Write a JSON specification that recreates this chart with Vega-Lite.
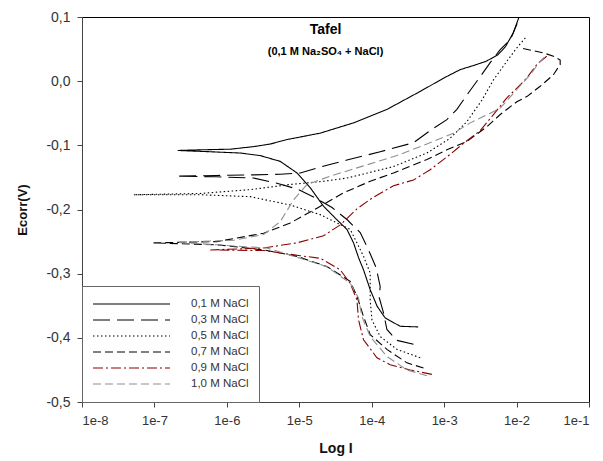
{
  "$schema": "https://vega.github.io/schema/vega-lite/v6.json",
  "width": 507,
  "height": 385,
  "autosize": {"type": "none"},
  "padding": {"left": 82, "top": 17, "right": 14, "bottom": 59},
  "background": "white",
  "config": {
    "font": "Liberation Sans",
    "view": {"stroke": "black", "strokeWidth": 1},
    "legend": {
      "orient": "bottom-left",
      "offset": 0,
      "padding": 10,
      "strokeColor": "#666666",
      "fillColor": "white",
      "symbolType": "stroke",
      "symbolSize": 5929,
      "clipHeight": 16,
      "rowPadding": 0,
      "labelOffset": 20,
      "labelFont": "Liberation Sans",
      "labelFontSize": 11.5,
      "labelColor": "#333333",
      "labelLimit": 200,
      "symbolStrokeWidth": 1.2
    }
  },
  "title": {
    "text": "Tafel",
    "subtitle": "(0,1 M Na₂SO₄ + NaCl)",
    "anchor": "middle",
    "offset": -47,
    "dx": -10,
    "font": "Liberation Sans",
    "fontSize": 14,
    "fontWeight": "bold",
    "color": "black",
    "subtitleFont": "Liberation Sans",
    "subtitleFontSize": 11,
    "subtitleFontWeight": "bold",
    "subtitleColor": "black",
    "subtitlePadding": 9
  },
  "data": {"values": [
    {"s":"0,1 M NaCl","i":0,"x":-3.358,"y":-0.383},
    {"s":"0,1 M NaCl","i":1,"x":-3.607,"y":-0.382},
    {"s":"0,1 M NaCl","i":2,"x":-3.814,"y":-0.369},
    {"s":"0,1 M NaCl","i":3,"x":-3.924,"y":-0.351},
    {"s":"0,1 M NaCl","i":4,"x":-4.021,"y":-0.325},
    {"s":"0,1 M NaCl","i":5,"x":-4.113,"y":-0.294},
    {"s":"0,1 M NaCl","i":6,"x":-4.182,"y":-0.275},
    {"s":"0,1 M NaCl","i":7,"x":-4.251,"y":-0.252},
    {"s":"0,1 M NaCl","i":8,"x":-4.342,"y":-0.231},
    {"s":"0,1 M NaCl","i":9,"x":-4.480,"y":-0.216},
    {"s":"0,1 M NaCl","i":10,"x":-4.665,"y":-0.195},
    {"s":"0,1 M NaCl","i":11,"x":-4.849,"y":-0.166},
    {"s":"0,1 M NaCl","i":12,"x":-5.032,"y":-0.143},
    {"s":"0,1 M NaCl","i":13,"x":-5.263,"y":-0.125},
    {"s":"0,1 M NaCl","i":14,"x":-5.539,"y":-0.116},
    {"s":"0,1 M NaCl","i":15,"x":-5.815,"y":-0.112},
    {"s":"0,1 M NaCl","i":16,"x":-6.229,"y":-0.110},
    {"s":"0,1 M NaCl","i":17,"x":-6.678,"y":-0.108},
    {"s":"0,1 M NaCl","i":18,"x":-6.367,"y":-0.107},
    {"s":"0,1 M NaCl","i":19,"x":-5.953,"y":-0.106},
    {"s":"0,1 M NaCl","i":20,"x":-5.631,"y":-0.102},
    {"s":"0,1 M NaCl","i":21,"x":-5.401,"y":-0.098},
    {"s":"0,1 M NaCl","i":22,"x":-5.170,"y":-0.091},
    {"s":"0,1 M NaCl","i":23,"x":-4.711,"y":-0.081},
    {"s":"0,1 M NaCl","i":24,"x":-4.251,"y":-0.065},
    {"s":"0,1 M NaCl","i":25,"x":-3.790,"y":-0.044},
    {"s":"0,1 M NaCl","i":26,"x":-3.331,"y":-0.016},
    {"s":"0,1 M NaCl","i":27,"x":-3.003,"y":0.005},
    {"s":"0,1 M NaCl","i":28,"x":-2.778,"y":0.018},
    {"s":"0,1 M NaCl","i":29,"x":-2.578,"y":0.025},
    {"s":"0,1 M NaCl","i":30,"x":-2.420,"y":0.031},
    {"s":"0,1 M NaCl","i":31,"x":-2.258,"y":0.041},
    {"s":"0,1 M NaCl","i":32,"x":-2.152,"y":0.054},
    {"s":"0,1 M NaCl","i":33,"x":-2.047,"y":0.075},
    {"s":"0,1 M NaCl","i":34,"x":-1.966,"y":0.100},

    {"s":"0,3 M NaCl","i":0,"x":-3.423,"y":-0.410},
    {"s":"0,3 M NaCl","i":1,"x":-3.652,"y":-0.404},
    {"s":"0,3 M NaCl","i":2,"x":-3.790,"y":-0.387},
    {"s":"0,3 M NaCl","i":3,"x":-3.837,"y":-0.361},
    {"s":"0,3 M NaCl","i":4,"x":-3.897,"y":-0.337},
    {"s":"0,3 M NaCl","i":5,"x":-3.883,"y":-0.320},
    {"s":"0,3 M NaCl","i":6,"x":-3.938,"y":-0.291},
    {"s":"0,3 M NaCl","i":7,"x":-4.044,"y":-0.263},
    {"s":"0,3 M NaCl","i":8,"x":-4.159,"y":-0.236},
    {"s":"0,3 M NaCl","i":9,"x":-4.338,"y":-0.216},
    {"s":"0,3 M NaCl","i":10,"x":-4.548,"y":-0.197},
    {"s":"0,3 M NaCl","i":11,"x":-4.761,"y":-0.183},
    {"s":"0,3 M NaCl","i":12,"x":-5.032,"y":-0.168},
    {"s":"0,3 M NaCl","i":13,"x":-5.309,"y":-0.159},
    {"s":"0,3 M NaCl","i":14,"x":-5.631,"y":-0.151},
    {"s":"0,3 M NaCl","i":15,"x":-6.146,"y":-0.149},
    {"s":"0,3 M NaCl","i":16,"x":-6.698,"y":-0.148},
    {"s":"0,3 M NaCl","i":17,"x":-6.146,"y":-0.147},
    {"s":"0,3 M NaCl","i":18,"x":-5.631,"y":-0.146},
    {"s":"0,3 M NaCl","i":19,"x":-5.263,"y":-0.145},
    {"s":"0,3 M NaCl","i":20,"x":-4.987,"y":-0.143},
    {"s":"0,3 M NaCl","i":21,"x":-4.618,"y":-0.131},
    {"s":"0,3 M NaCl","i":22,"x":-4.342,"y":-0.123},
    {"s":"0,3 M NaCl","i":23,"x":-3.883,"y":-0.110},
    {"s":"0,3 M NaCl","i":24,"x":-3.423,"y":-0.096},
    {"s":"0,3 M NaCl","i":25,"x":-3.193,"y":-0.077},
    {"s":"0,3 M NaCl","i":26,"x":-2.962,"y":-0.060},
    {"s":"0,3 M NaCl","i":27,"x":-2.824,"y":-0.044},
    {"s":"0,3 M NaCl","i":28,"x":-2.682,"y":-0.021},
    {"s":"0,3 M NaCl","i":29,"x":-2.502,"y":0.007},
    {"s":"0,3 M NaCl","i":30,"x":-2.364,"y":0.029},
    {"s":"0,3 M NaCl","i":31,"x":-2.226,"y":0.049},
    {"s":"0,3 M NaCl","i":32,"x":-2.084,"y":0.065},
    {"s":"0,3 M NaCl","i":33,"x":-1.992,"y":0.090},

    {"s":"0,5 M NaCl","i":0,"x":-3.331,"y":-0.431},
    {"s":"0,5 M NaCl","i":1,"x":-3.652,"y":-0.418},
    {"s":"0,5 M NaCl","i":2,"x":-3.883,"y":-0.398},
    {"s":"0,5 M NaCl","i":3,"x":-3.997,"y":-0.372},
    {"s":"0,5 M NaCl","i":4,"x":-4.021,"y":-0.341},
    {"s":"0,5 M NaCl","i":5,"x":-4.021,"y":-0.299},
    {"s":"0,5 M NaCl","i":6,"x":-4.113,"y":-0.273},
    {"s":"0,5 M NaCl","i":7,"x":-4.204,"y":-0.252},
    {"s":"0,5 M NaCl","i":8,"x":-4.297,"y":-0.231},
    {"s":"0,5 M NaCl","i":9,"x":-4.480,"y":-0.221},
    {"s":"0,5 M NaCl","i":10,"x":-4.711,"y":-0.208},
    {"s":"0,5 M NaCl","i":11,"x":-5.125,"y":-0.193},
    {"s":"0,5 M NaCl","i":12,"x":-5.677,"y":-0.180},
    {"s":"0,5 M NaCl","i":13,"x":-6.367,"y":-0.177},
    {"s":"0,5 M NaCl","i":14,"x":-7.288,"y":-0.177},
    {"s":"0,5 M NaCl","i":15,"x":-6.367,"y":-0.175},
    {"s":"0,5 M NaCl","i":16,"x":-5.677,"y":-0.169},
    {"s":"0,5 M NaCl","i":17,"x":-5.125,"y":-0.161},
    {"s":"0,5 M NaCl","i":18,"x":-4.665,"y":-0.156},
    {"s":"0,5 M NaCl","i":19,"x":-4.342,"y":-0.151},
    {"s":"0,5 M NaCl","i":20,"x":-4.159,"y":-0.146},
    {"s":"0,5 M NaCl","i":21,"x":-3.699,"y":-0.133},
    {"s":"0,5 M NaCl","i":22,"x":-3.238,"y":-0.112},
    {"s":"0,5 M NaCl","i":23,"x":-2.917,"y":-0.089},
    {"s":"0,5 M NaCl","i":24,"x":-2.686,"y":-0.063},
    {"s":"0,5 M NaCl","i":25,"x":-2.475,"y":-0.029},
    {"s":"0,5 M NaCl","i":26,"x":-2.319,"y":0.002},
    {"s":"0,5 M NaCl","i":27,"x":-2.134,"y":0.031},
    {"s":"0,5 M NaCl","i":28,"x":-1.996,"y":0.052},
    {"s":"0,5 M NaCl","i":29,"x":-1.867,"y":0.069},

    {"s":"0,7 M NaCl","i":0,"x":-3.285,"y":-0.447},
    {"s":"0,7 M NaCl","i":1,"x":-3.514,"y":-0.439},
    {"s":"0,7 M NaCl","i":2,"x":-3.790,"y":-0.418},
    {"s":"0,7 M NaCl","i":3,"x":-4.021,"y":-0.395},
    {"s":"0,7 M NaCl","i":4,"x":-4.113,"y":-0.367},
    {"s":"0,7 M NaCl","i":5,"x":-4.204,"y":-0.335},
    {"s":"0,7 M NaCl","i":6,"x":-4.297,"y":-0.312},
    {"s":"0,7 M NaCl","i":7,"x":-4.618,"y":-0.289},
    {"s":"0,7 M NaCl","i":8,"x":-5.032,"y":-0.273},
    {"s":"0,7 M NaCl","i":9,"x":-5.493,"y":-0.263},
    {"s":"0,7 M NaCl","i":10,"x":-6.137,"y":-0.255},
    {"s":"0,7 M NaCl","i":11,"x":-7.012,"y":-0.252},
    {"s":"0,7 M NaCl","i":12,"x":-6.137,"y":-0.250},
    {"s":"0,7 M NaCl","i":13,"x":-5.493,"y":-0.237},
    {"s":"0,7 M NaCl","i":14,"x":-5.125,"y":-0.221},
    {"s":"0,7 M NaCl","i":15,"x":-4.756,"y":-0.198},
    {"s":"0,7 M NaCl","i":16,"x":-4.389,"y":-0.174},
    {"s":"0,7 M NaCl","i":17,"x":-4.021,"y":-0.156},
    {"s":"0,7 M NaCl","i":18,"x":-3.699,"y":-0.143},
    {"s":"0,7 M NaCl","i":19,"x":-3.238,"y":-0.122},
    {"s":"0,7 M NaCl","i":20,"x":-2.962,"y":-0.107},
    {"s":"0,7 M NaCl","i":21,"x":-2.686,"y":-0.094},
    {"s":"0,7 M NaCl","i":22,"x":-2.410,"y":-0.071},
    {"s":"0,7 M NaCl","i":23,"x":-2.226,"y":-0.052},
    {"s":"0,7 M NaCl","i":24,"x":-1.996,"y":-0.032},
    {"s":"0,7 M NaCl","i":25,"x":-1.858,"y":-0.024},
    {"s":"0,7 M NaCl","i":26,"x":-1.674,"y":-0.008},
    {"s":"0,7 M NaCl","i":27,"x":-1.491,"y":0.010},
    {"s":"0,7 M NaCl","i":28,"x":-1.398,"y":0.026},
    {"s":"0,7 M NaCl","i":29,"x":-1.398,"y":0.033},
    {"s":"0,7 M NaCl","i":30,"x":-1.491,"y":0.039},
    {"s":"0,7 M NaCl","i":31,"x":-1.629,"y":0.044},
    {"s":"0,7 M NaCl","i":32,"x":-1.950,"y":0.052},

    {"s":"0,9 M NaCl","i":0,"x":-3.169,"y":-0.457},
    {"s":"0,9 M NaCl","i":1,"x":-3.469,"y":-0.450},
    {"s":"0,9 M NaCl","i":2,"x":-3.745,"y":-0.442},
    {"s":"0,9 M NaCl","i":3,"x":-3.928,"y":-0.431},
    {"s":"0,9 M NaCl","i":4,"x":-4.113,"y":-0.403},
    {"s":"0,9 M NaCl","i":5,"x":-4.182,"y":-0.372},
    {"s":"0,9 M NaCl","i":6,"x":-4.204,"y":-0.341},
    {"s":"0,9 M NaCl","i":7,"x":-4.297,"y":-0.315},
    {"s":"0,9 M NaCl","i":8,"x":-4.435,"y":-0.294},
    {"s":"0,9 M NaCl","i":9,"x":-4.711,"y":-0.276},
    {"s":"0,9 M NaCl","i":10,"x":-4.987,"y":-0.272},
    {"s":"0,9 M NaCl","i":11,"x":-5.493,"y":-0.264},
    {"s":"0,9 M NaCl","i":12,"x":-6.229,"y":-0.263},
    {"s":"0,9 M NaCl","i":13,"x":-5.493,"y":-0.260},
    {"s":"0,9 M NaCl","i":14,"x":-5.032,"y":-0.252},
    {"s":"0,9 M NaCl","i":15,"x":-4.665,"y":-0.241},
    {"s":"0,9 M NaCl","i":16,"x":-4.435,"y":-0.224},
    {"s":"0,9 M NaCl","i":17,"x":-4.204,"y":-0.199},
    {"s":"0,9 M NaCl","i":18,"x":-3.993,"y":-0.182},
    {"s":"0,9 M NaCl","i":19,"x":-3.699,"y":-0.163},
    {"s":"0,9 M NaCl","i":20,"x":-3.423,"y":-0.154},
    {"s":"0,9 M NaCl","i":21,"x":-3.193,"y":-0.138},
    {"s":"0,9 M NaCl","i":22,"x":-2.962,"y":-0.118},
    {"s":"0,9 M NaCl","i":23,"x":-2.733,"y":-0.097},
    {"s":"0,9 M NaCl","i":24,"x":-2.502,"y":-0.077},
    {"s":"0,9 M NaCl","i":25,"x":-2.319,"y":-0.052},
    {"s":"0,9 M NaCl","i":26,"x":-2.134,"y":-0.026},
    {"s":"0,9 M NaCl","i":27,"x":-1.996,"y":-0.011},
    {"s":"0,9 M NaCl","i":28,"x":-1.858,"y":0.005},
    {"s":"0,9 M NaCl","i":29,"x":-1.720,"y":0.026},
    {"s":"0,9 M NaCl","i":30,"x":-1.560,"y":0.041},

    {"s":"1,0 M NaCl","i":0,"x":-3.238,"y":-0.459},
    {"s":"1,0 M NaCl","i":1,"x":-3.514,"y":-0.450},
    {"s":"1,0 M NaCl","i":2,"x":-3.790,"y":-0.429},
    {"s":"1,0 M NaCl","i":3,"x":-4.021,"y":-0.398},
    {"s":"1,0 M NaCl","i":4,"x":-4.135,"y":-0.367},
    {"s":"1,0 M NaCl","i":5,"x":-4.182,"y":-0.338},
    {"s":"1,0 M NaCl","i":6,"x":-4.297,"y":-0.315},
    {"s":"1,0 M NaCl","i":7,"x":-4.618,"y":-0.289},
    {"s":"1,0 M NaCl","i":8,"x":-4.987,"y":-0.276},
    {"s":"1,0 M NaCl","i":9,"x":-5.447,"y":-0.260},
    {"s":"1,0 M NaCl","i":10,"x":-6.137,"y":-0.255},
    {"s":"1,0 M NaCl","i":11,"x":-6.689,"y":-0.251},
    {"s":"1,0 M NaCl","i":12,"x":-5.908,"y":-0.248},
    {"s":"1,0 M NaCl","i":13,"x":-5.493,"y":-0.239},
    {"s":"1,0 M NaCl","i":14,"x":-5.263,"y":-0.219},
    {"s":"1,0 M NaCl","i":15,"x":-5.079,"y":-0.185},
    {"s":"1,0 M NaCl","i":16,"x":-4.894,"y":-0.161},
    {"s":"1,0 M NaCl","i":17,"x":-4.573,"y":-0.148},
    {"s":"1,0 M NaCl","i":18,"x":-4.113,"y":-0.132},
    {"s":"1,0 M NaCl","i":19,"x":-3.652,"y":-0.116},
    {"s":"1,0 M NaCl","i":20,"x":-3.238,"y":-0.098},
    {"s":"1,0 M NaCl","i":21,"x":-2.871,"y":-0.081},
    {"s":"1,0 M NaCl","i":22,"x":-2.640,"y":-0.065},
    {"s":"1,0 M NaCl","i":23,"x":-2.364,"y":-0.050},
    {"s":"1,0 M NaCl","i":24,"x":-2.226,"y":-0.042},
    {"s":"1,0 M NaCl","i":25,"x":-1.996,"y":-0.013},
    {"s":"1,0 M NaCl","i":26,"x":-1.812,"y":0.010},
    {"s":"1,0 M NaCl","i":27,"x":-1.674,"y":0.031},
    {"s":"1,0 M NaCl","i":28,"x":-1.582,"y":0.041}
  ]},
  "mark": {"type": "line", "clip": true},
  "encoding": {
    "x": {
      "field": "x", "type": "quantitative",
      "scale": {"domain": [-8, -1], "nice": false, "zero": false},
      "axis": {
        "title": "Log I",
        "values": [-8, -7, -6, -5, -4, -3, -2, -1],
        "labelExpr": "'1e' + datum.value",
        "grid": false,
        "labelFont": "Liberation Sans", "labelFontSize": 13, "labelColor": "#333333",
        "labelPadding": 7, "tickSize": 5, "tickColor": "#444444", "domainColor": "#444444",
        "titleFont": "Liberation Sans", "titleFontSize": 14, "titleFontWeight": "bold", "titleColor": "#111111",
        "titlePadding": 14
      }
    },
    "y": {
      "field": "y", "type": "quantitative",
      "scale": {"domain": [-0.5, 0.1], "nice": false, "zero": false},
      "axis": {
        "title": "Ecorr(V)",
        "values": [-0.5, -0.4, -0.3, -0.2, -0.1, 0, 0.1],
        "labelExpr": "replace(replace(format(datum.value, '.1f'), '.', ','), '−', '-')",
        "grid": false,
        "labelFont": "Liberation Sans", "labelFontSize": 14, "labelColor": "#333333",
        "labelPadding": 7, "tickSize": 5, "tickColor": "#444444", "domainColor": "#444444",
        "titleFont": "Liberation Sans", "titleFontSize": 13, "titleFontWeight": "bold", "titleColor": "#111111",
        "titlePadding": 16
      }
    },
    "order": {"field": "i", "type": "quantitative"},
    "color": {
      "field": "s", "type": "nominal",
      "scale": {
        "domain": ["0,1 M NaCl", "0,3 M NaCl", "0,5 M NaCl", "0,7 M NaCl", "0,9 M NaCl", "1,0 M NaCl"],
        "range": ["#000000", "#000000", "#000000", "#000000", "#8b0000", "#8f8f8f"]
      },
      "legend": {"title": null}
    },
    "strokeDash": {
      "field": "s", "type": "nominal",
      "scale": {
        "domain": ["0,1 M NaCl", "0,3 M NaCl", "0,5 M NaCl", "0,7 M NaCl", "0,9 M NaCl", "1,0 M NaCl"],
        "range": [[1, 0], [17, 7], [1.5, 2.5], [8, 4], [10, 3, 2, 3], [8, 4]]
      },
      "legend": {"title": null}
    },
    "strokeWidth": {
      "field": "s", "type": "nominal",
      "scale": {
        "domain": ["0,1 M NaCl", "0,3 M NaCl", "0,5 M NaCl", "0,7 M NaCl", "0,9 M NaCl", "1,0 M NaCl"],
        "range": [1.1, 1.1, 1.3, 2, 1.7, 2.5]
      },
      "legend": null
    }
  }
}
